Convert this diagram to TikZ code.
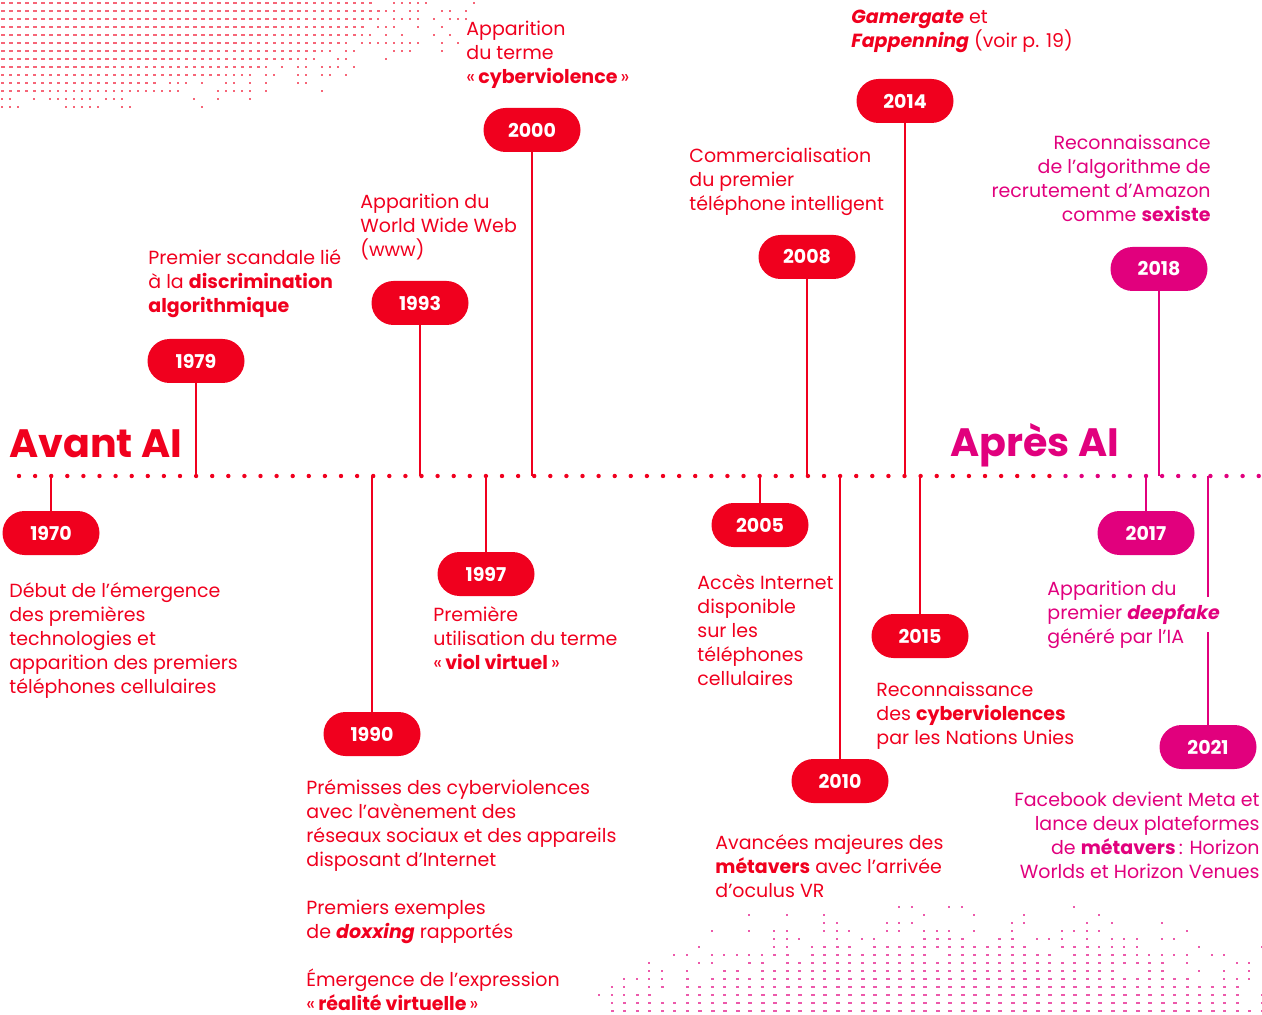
\documentclass[tikz,border=0pt]{standalone}
\usepackage{fontspec}
\setmainfont{Poppins}
\definecolor{aired}{RGB}{240,0,30}
\definecolor{aipink}{RGB}{225,0,125}
\tikzset{
  yearbox/.style={fill=#1, text=white, rounded corners=11pt, minimum width=48.5pt,
    minimum height=22pt, inner sep=0pt, font=\bfseries\fontsize{9.5}{12}\selectfont},
  yearbox/.default=aired,
  stem/.style={draw=#1, line width=1pt},
  stem/.default=aired,
  blurb/.style={text=#1, anchor=north west, align=left, inner sep=0pt,
    font=\fontsize{9.5}{12}\selectfont},
  blurb/.default=aired,
  blurbr/.style={blurb=#1, anchor=north east, align=right},
  bigtitle/.style={text=#1, anchor=base west, inner sep=0pt,
    font=\bfseries\fontsize{19.8}{20}\selectfont}
}
\begin{document}
\begin{tikzpicture}[x=0.5pt,y=-0.5pt]
\useasboundingbox (0,0) rectangle (1262,1015);
% dot texture, top left
\pgfmathsetseed{12}
\foreach \r in {0,...,13}{
  \foreach \c in {0,...,59}{
    \pgfmathsetmacro{\px}{1+8*\c}
    \pgfmathsetmacro{\py}{2+8*\r}
    \pgfmathsetmacro{\p}{2.2*(1-(\px/500)^2-(\py/118)^2)}
    \pgfmathsetmacro{\w}{\p>1.4 ? 4 : (\p>0.9 ? 3 : 2)}
    \pgfmathparse{rnd<\p ? 1 : 0}
    \ifnum\pgfmathresult=1
      \fill[aired!60] (\px,\py) rectangle ++(\w,2);
    \fi
  }
}
% dot texture, bottom right
\foreach \r in {0,...,13}{
  \foreach \c in {0,...,53}{
    \pgfmathsetmacro{\px}{598+12.5*\c}
    \pgfmathsetmacro{\py}{906+8*\r}
    \pgfmathsetmacro{\p}{1.8-1.2*((\px-950)/380)^2-(1012-\py)/70}
    \pgfmathsetmacro{\w}{\p>1.2 ? 4 : (\p>0.7 ? 3 : 2)}
    \pgfmathparse{rnd<\p ? 1 : 0}
    \ifnum\pgfmathresult=1
      \fill[aipink!65] (\px,\py) rectangle ++(\w,2);
    \fi
  }
}
% the time axis
\coordinate (axis) at (0,476);
\foreach \k in {0,...,77}{
  \pgfmathsetmacro{\dx}{19+16.1*\k}
  \ifnum\k<65
    \fill[aired] (\dx,476) circle (1.1pt);
  \else
    \fill[aipink] (\dx,476) circle (1.1pt);
  \fi
}
\node[bigtitle=aired] (avant) at (9,458) {Avant AI};
\node[bigtitle=aipink] (apres) at (950,457) {Après AI};

% years
\node[yearbox] (y1970) at (51,533) {1970};
\node[yearbox] (y1979) at (196,361) {1979};
\node[yearbox] (y1990) at (372,734) {1990};
\node[yearbox] (y1993) at (420,303) {1993};
\node[yearbox] (y1997) at (486,574) {1997};
\node[yearbox] (y2000) at (532,130) {2000};
\node[yearbox] (y2005) at (760,525) {2005};
\node[yearbox] (y2008) at (807,257) {2008};
\node[yearbox] (y2010) at (840,781) {2010};
\node[yearbox] (y2014) at (905,101) {2014};
\node[yearbox] (y2015) at (920,636) {2015};
\node[yearbox=aipink] (y2017) at (1146,533) {2017};
\node[yearbox=aipink] (y2018) at (1159,269) {2018};
\node[yearbox=aipink] (y2021) at (1208,747) {2021};

% stems
\foreach \yr in {1970,1979,1990,1993,1997,2000,2005,2008,2010,2014,2015}
  \draw[stem] (y\yr) -- (y\yr |- axis);
\foreach \yr in {2017,2018}
  \draw[stem=aipink] (y\yr) -- (y\yr |- axis);
\coordinate (gaplow) at (1208,632);
\coordinate (gaphigh) at (1208,597);
\draw[stem=aipink] (y2021) -- (gaplow);
\draw[stem=aipink] (gaphigh) -- (y2021 |- axis);

% texts
\node[blurb] (t1970) at (9,582) {Début de l’émergence\\des premières\\technologies et\\apparition des premiers\\téléphones cellulaires};
\node[blurb] (t1979) at (148,249) {Premier scandale lié\\à la \textbf{discrimination}\\\textbf{algorithmique}};
\node[blurb] (t1990) at (306,779) {Prémisses des cyberviolences\\avec l'avènement des\\réseaux sociaux et des appareils\\disposant d’Internet\\[12pt]Premiers exemples\\de \textbf{\textit{doxxing}} rapportés\\[12pt]Émergence de l’expression\\«\,\textbf{réalité virtuelle}\,»};
\node[blurb] (t1993) at (360,194) {Apparition du\\World Wide Web\\(www)};
\node[blurb] (t1997) at (433,606) {Première\\utilisation du terme\\«\,\textbf{viol virtuel}\,»};
\node[blurb] (t2000) at (466,21) {Apparition\\du terme\\«\,\textbf{cyberviolence}\,»};
\node[blurb] (t2005) at (697,574) {Accès Internet\\disponible\\sur les\\téléphones\\cellulaires};
\node[blurb] (t2008) at (689,148) {Commercialisation\\du premier\\téléphone intelligent};
\node[blurb] (t2010) at (715,834) {Avancées majeures des\\\textbf{métavers} avec l’arrivée\\d’oculus VR};
\node[blurb] (t2014) at (851,10) {\textbf{\textit{Gamergate}} et\\\textbf{\textit{Fappenning}} (voir p. 19)};
\node[blurb] (t2015) at (876,682) {Reconnaissance\\des \textbf{cyberviolences}\\par les Nations Unies};
\node[blurb=aipink] (t2017) at (1047,581) {Apparition du\\premier \textbf{\textit{deepfake}}\\généré par l’IA};
\node[blurbr=aipink] (t2018) at (1211,135) {Reconnaissance\\de l’algorithme de\\recrutement d’Amazon\\comme \textbf{sexiste}};
\node[blurbr=aipink] (t2021) at (1260,792) {Facebook devient Meta et\\lance deux plateformes\\de \textbf{métavers}\,: Horizon\\Worlds et Horizon Venues};
\end{tikzpicture}
\end{document}
